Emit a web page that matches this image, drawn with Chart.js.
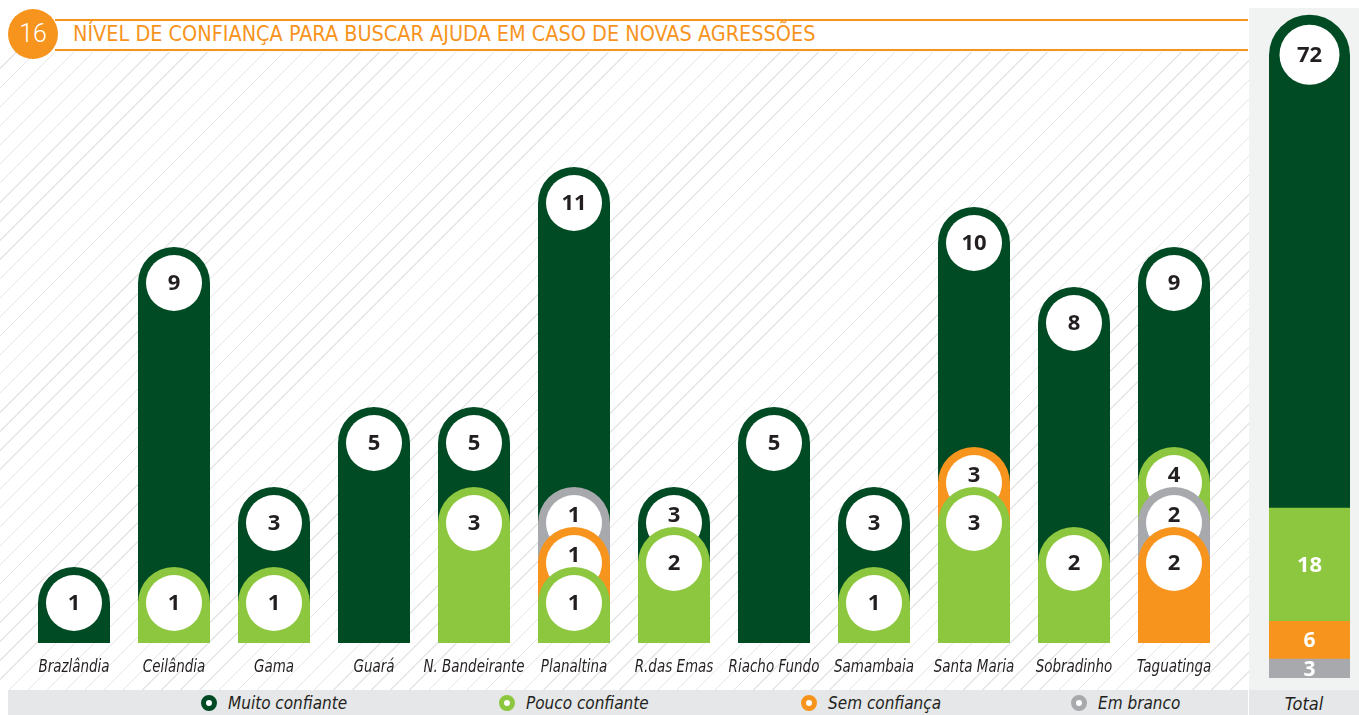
<!DOCTYPE html>
<html lang="pt">
<head>
<meta charset="utf-8">
<title>Nível de confiança para buscar ajuda em caso de novas agressões</title>
<script src="https://cdn.jsdelivr.net/npm/chart.js"></script>
<style>
  body { margin: 0; width: 1359px; height: 715px; background: #fff; position: relative; overflow: hidden;
         font-family: 'Liberation Sans Narrow', 'DejaVu Sans Condensed', sans-serif; color: #231f20; }
  #hatch { position: absolute; left: 0; top: 52px; width: 1249px; height: 638px;
           background: repeating-linear-gradient(-45deg, transparent 0 12.5px, #e6e6e6 12.5px 13.5px); }
  #totalPanel { position: absolute; left: 1249px; top: 8px; width: 110px; height: 682px; background: #f1f2f2; }
  .line { position: absolute; left: 55px; width: 1193px; height: 2px; background: #f7941d; }
  #num { position: absolute; left: 8px; top: 9px; width: 50px; height: 50px; border-radius: 50%;
         background: #f7941d; color: #fff; font-family: Roboto, sans-serif; font-weight: 300;
         font-size: 25px; line-height: 50px; text-align: center; }
  #title { position: absolute; left: 73px; top: 22px; font-size: 22px; color: #f7941d; white-space: nowrap;
           transform-origin: 0 0; line-height: 24px; }
  #legendBand { position: absolute; left: 8px; top: 690px; width: 1240px; height: 25px; background: #e6e7e8; }
  #totalCell { position: absolute; left: 1249px; top: 690px; width: 110px; height: 25px; background: #e6e7e8;
               font-style: italic; font-size: 18px; line-height: 27px; text-align: center; }
  .item { position: absolute; top: 690px; height: 25px; line-height: 27px; font-style: italic; font-size: 17px;
          white-space: nowrap; }
  .item i { display: inline-block; width: 6px; height: 6px; border: 5px solid; border-radius: 50%;
            background: #fff; vertical-align: -2px; margin-right: 11px; }
  canvas { position: absolute; top: 0; }
</style>
</head>
<body>
<div id="hatch"></div>
<div id="totalPanel"></div>
<div class="line" style="top:19px"></div>
<div class="line" style="top:49px"></div>
<div id="num">16</div>
<div id="title">NÍVEL DE CONFIANÇA PARA BUSCAR AJUDA EM CASO DE NOVAS AGRESSÕES</div>

<canvas id="mainChart" width="1249" height="690" style="left:0"></canvas>
<canvas id="totalChart" width="110" height="690" style="left:1249px"></canvas>

<div id="legendBand"></div>
<div class="item" style="left:201px"><i style="border-color:#004b23"></i>Muito confiante</div>
<div class="item" style="left:499px"><i style="border-color:#8dc63f"></i>Pouco confiante</div>
<div class="item" style="left:801px"><i style="border-color:#f7941d"></i>Sem confiança</div>
<div class="item" style="left:1071px"><i style="border-color:#a7a9ac"></i>Em branco</div>
<div id="totalCell">Total</div>

<script>
// data
const regioes = ['Brazlândia', 'Ceilândia', 'Gama', 'Guará', 'N. Bandeirante', 'Planaltina',
  'R.das Emas', 'Riacho Fundo', 'Samambaia', 'Santa Maria', 'Sobradinho', 'Taguatinga'];
const muitoConfiante = [1, 9, 3, 5, 5, 11, 3, 5, 3, 10, 8, 9];
const poucoConfiante = [0, 1, 1, 0, 3, 1, 2, 0, 1, 3, 2, 4];
const semConfianca   = [0, 0, 0, 0, 0, 1, 0, 0, 0, 3, 0, 2];
const emBranco       = [0, 0, 0, 0, 0, 1, 0, 0, 0, 0, 0, 2];
const totalLabel = ['Total'];
const totais = { muito: 72, pouco: 18, sem: 6, branco: 3 };

const VERDE = '#004b23', CLARO = '#8dc63f', LARANJA = '#f7941d', CINZA = '#a7a9ac', TEXTO = '#231f20';

// fit the title to its width in the original
const t = document.getElementById('title');
t.style.transform = 'scaleX(' + (742 / t.offsetWidth) + ')';

// pill bars with a white disc at the value; overlapping discs are nudged up
const pillPlugin = {
  id: 'pills',
  beforeDatasetsDraw() { return false; },
  afterDraw(chart) {
    const ctx = chart.ctx, y = chart.scales.y, x = chart.scales.x;
    const base = y.getPixelForValue(0);
    const unit = base - y.getPixelForValue(1);
    const inner = 28;
    // tie order: lower priority sits lower in the pile
    const prio = [3, 0, 1, 2];
    regioes.forEach((nome, i) => {
      let items = [];
      chart.data.datasets.forEach((ds, d) => {
        const v = ds.data[i];
        if (!v) return;
        const el = chart.getDatasetMeta(d).data[i];
        items.push({ v, color: ds.backgroundColor, x: el.x, w: el.width, p: prio[d], cy: y.getPixelForValue(v) });
      });
      items.sort((a, b) => a.v - b.v || a.p - b.p);
      let prev = null;
      items.forEach(it => {
        if (prev !== null && it.cy > prev - unit) it.cy = prev - unit;
        prev = it.cy;
      });
      // draw tallest first
      items.sort((a, b) => a.cy - b.cy);
      items.forEach((it, k) => {
        const r = it.w / 2, left = it.x - r, right = it.x + r;
        ctx.fillStyle = it.color;
        ctx.beginPath();
        ctx.moveTo(left, base);
        ctx.lineTo(left, it.cy);
        ctx.arc(it.x, it.cy, r, Math.PI, 0);
        ctx.lineTo(right, base);
        ctx.closePath();
        ctx.fill();
        ctx.fillStyle = '#fff';
        ctx.beginPath();
        ctx.arc(it.x, it.cy, inner, 0, Math.PI * 2);
        ctx.fill();
        let ty = it.cy;
        const front = items[k + 1];
        if (front && front.cy - it.cy < inner * 2) ty = (it.cy + front.cy) / 2 - inner;
        ctx.fillStyle = TEXTO;
        ctx.font = 'bold 22px "Open Sans", sans-serif';
        ctx.textAlign = 'center';
        ctx.textBaseline = 'middle';
        ctx.fillText(String(it.v), it.x, ty + 1);
      });
      // condensed italic region name
      ctx.save();
      ctx.translate(x.getPixelForValue(i), base + 25);
      ctx.scale(0.88, 1);
      ctx.font = 'italic 17px "Liberation Sans Narrow", "DejaVu Sans Condensed", sans-serif';
      ctx.fillStyle = TEXTO;
      ctx.textAlign = 'center';
      ctx.textBaseline = 'middle';
      ctx.fillText(nome, 0, 0);
      ctx.restore();
    });
  }
};

new Chart(document.getElementById('mainChart'), {
  type: 'bar',
  data: {
    labels: regioes,
    datasets: [
      { label: 'Muito confiante', data: muitoConfiante, backgroundColor: VERDE },
      { label: 'Pouco confiante', data: poucoConfiante, backgroundColor: CLARO },
      { label: 'Sem confiança', data: semConfianca, backgroundColor: LARANJA },
      { label: 'Em branco', data: emBranco, backgroundColor: CINZA }
    ]
  },
  options: {
    responsive: false,
    animation: false,
    events: [],
    datasets: { bar: { grouped: false, barPercentage: 0.72, categoryPercentage: 1 } },
    layout: { padding: { left: 24, right: 25, top: 43, bottom: 47 } },
    scales: {
      x: { display: false },
      y: { display: false, min: 0, max: 15 }
    },
    plugins: { legend: { display: false }, tooltip: { enabled: false } }
  },
  plugins: [pillPlugin]
});

// total column: stacked bar, rounded top and labels
const totalPlugin = {
  id: 'totalLabels',
  afterDatasetsDraw(chart) {
    const ctx = chart.ctx;
    ctx.textAlign = 'center';
    ctx.textBaseline = 'middle';
    chart.data.datasets.forEach((ds, d) => {
      const el = chart.getDatasetMeta(d).data[0];
      const mid = (el.y + el.base) / 2;
      if (ds.label === 'Muito confiante') {
        const r = el.width / 2;
        ctx.fillStyle = ds.backgroundColor;
        ctx.beginPath();
        ctx.arc(el.x, el.y + 0.5, r, Math.PI, 0);
        ctx.fill();
        ctx.fillStyle = '#fff';
        ctx.beginPath();
        ctx.arc(el.x, el.y, 30, 0, Math.PI * 2);
        ctx.fill();
        ctx.fillStyle = TEXTO;
        ctx.font = 'bold 22px "Open Sans", sans-serif';
        ctx.fillText(String(ds.data[0]), el.x, el.y + 1);
      } else {
        ctx.fillStyle = '#fff';
        ctx.font = ds.data[0] > 9 ? 'bold 22px "Open Sans", sans-serif' : 'bold 21px "Open Sans", sans-serif';
        ctx.fillText(String(ds.data[0]), el.x, mid + 1);
      }
    });
  }
};

new Chart(document.getElementById('totalChart'), {
  type: 'bar',
  data: {
    labels: totalLabel,
    datasets: [
      { label: 'Em branco', data: [totais.branco], backgroundColor: CINZA },
      { label: 'Sem confiança', data: [totais.sem], backgroundColor: LARANJA },
      { label: 'Pouco confiante', data: [totais.pouco], backgroundColor: CLARO },
      { label: 'Muito confiante', data: [totais.muito], backgroundColor: VERDE }
    ]
  },
  options: {
    responsive: false,
    animation: false,
    events: [],
    datasets: { bar: { barPercentage: 1, categoryPercentage: 1, borderWidth: 0 } },
    layout: { padding: { left: 20, right: 9, top: 17, bottom: 12 } },
    scales: {
      x: { display: false, stacked: true },
      y: { display: false, stacked: true, min: 0, max: 105 }
    },
    plugins: { legend: { display: false }, tooltip: { enabled: false } }
  },
  plugins: [totalPlugin]
});
</script>
</body>
</html>
